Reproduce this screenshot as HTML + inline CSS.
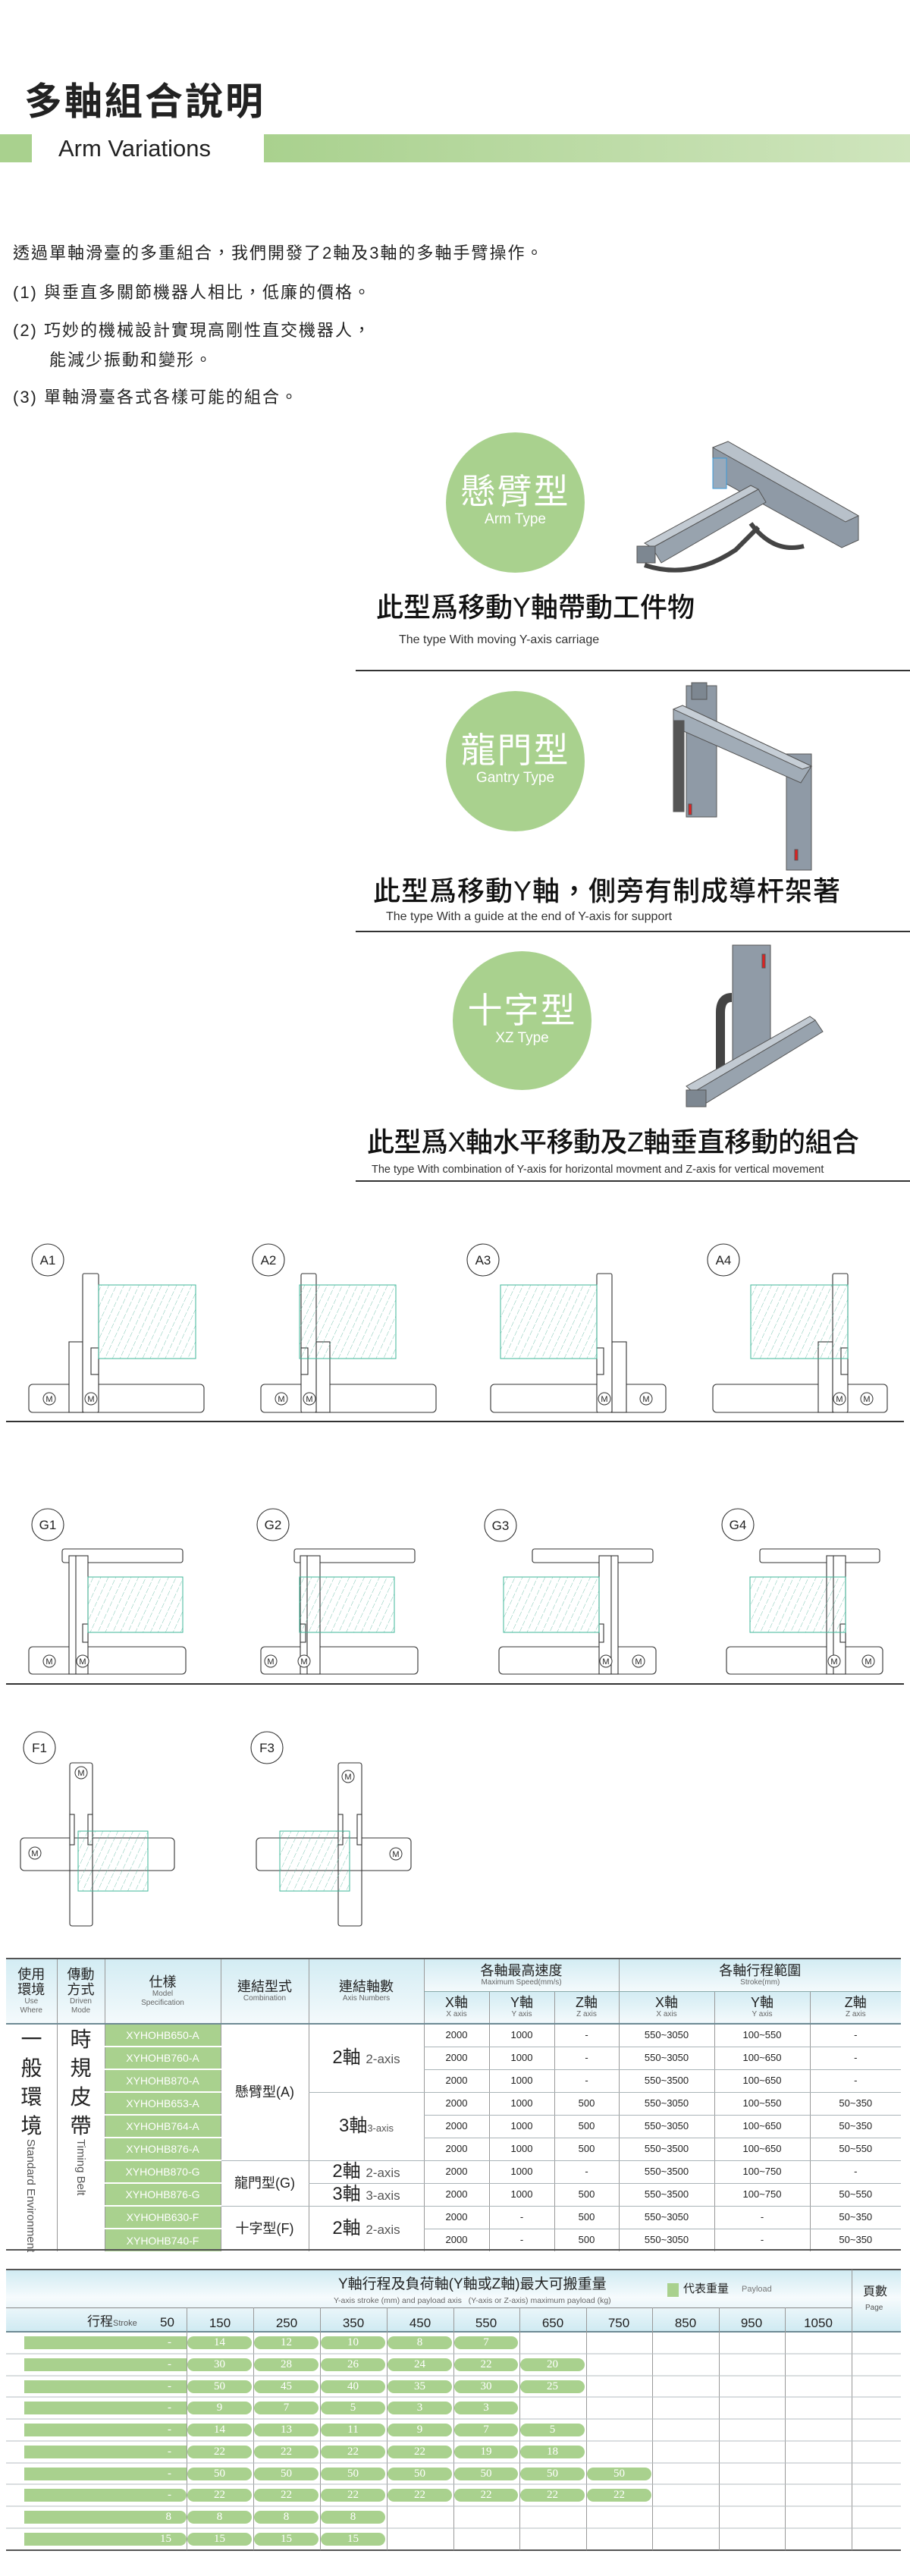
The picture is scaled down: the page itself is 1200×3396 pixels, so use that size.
<!DOCTYPE html>
<html><head><meta charset="utf-8">
<style>
*{margin:0;padding:0;box-sizing:border-box}
body{width:1200px;height:3396px;position:relative;background:#fff;font-family:"Liberation Sans","Noto Sans CJK TC",sans-serif;color:#222;overflow:hidden}
.a{position:absolute;white-space:nowrap}
.circ{position:absolute;border-radius:50%;background:#a9d18e;color:#fff;text-align:center}
.circ .c{font-size:46px;line-height:52px;letter-spacing:2px}
.circ .e{font-size:19px;line-height:22px}
.big{font-size:36px;line-height:40px;font-weight:500;color:#111}
.sub{font-size:16px;line-height:18px;color:#333}
.hl{position:absolute;left:469px;width:731px;height:2px;background:#333}
.p{font-size:22px;line-height:26px;letter-spacing:2px}
table{border-collapse:collapse;position:absolute;table-layout:fixed}
#t1 td{text-align:center;vertical-align:middle;font-size:13px;line-height:16px;color:#222;border-left:1px solid #999;border-bottom:1px solid #aab4b8;height:30px;padding:0;overflow:hidden}
#t1 .h td{background:linear-gradient(#d3ecf3,#f4fafc);border-bottom:2px solid #6e8a94}
#t1 .m{background:#a9d18e;color:#fff;font-size:14px;border-bottom:2px solid #fff}
.hc{font-size:18px;line-height:20px}
.he{font-size:10px;color:#666;line-height:12px}
.ax{font-size:24px;line-height:26px}
.pill{position:absolute;height:17px;background:#a9d18e;color:#fff;font-family:"Liberation Serif",serif;font-size:15px;line-height:17px;text-align:center;border-radius:9px}
.fs{position:absolute;height:17px;background:#a9d18e;color:#fff;font-family:"Liberation Serif",serif;font-size:15px;line-height:17px;text-align:right;padding-right:20px;left:32px;width:214px}
</style></head><body>

<div class="a" style="left:32px;top:104px;font-size:50px;line-height:60px;font-weight:bold;letter-spacing:3px;color:#222">多軸組合說明</div>
<div class="a" style="left:0;top:177px;width:42px;height:37px;background:#a9d18e"></div>
<div class="a" style="left:348px;top:177px;width:852px;height:37px;background:linear-gradient(90deg,#a9d18e,#cfe5bd)"></div>
<div class="a" style="left:77px;top:178px;font-size:31px;line-height:36px;color:#222">Arm Variations</div>

<div class="a p" style="left:17px;top:321px">透過單軸滑臺的多重組合，我們開發了2軸及3軸的多軸手臂操作。</div>
<div class="a p" style="left:17px;top:373px">(1) 與垂直多關節機器人相比，低廉的價格。</div>
<div class="a p" style="left:17px;top:423px">(2) 巧妙的機械設計實現高剛性直交機器人，</div>
<div class="a p" style="left:65px;top:462px">能減少振動和變形。</div>
<div class="a p" style="left:17px;top:511px">(3) 單軸滑臺各式各樣可能的組合。</div>

<div class="circ" style="left:588px;top:570px;width:183px;height:185px;padding-top:52px"><div class="c">懸臂型</div><div class="e">Arm Type</div></div>
<div class="a big" style="left:496px;top:781px">此型爲移動Y軸帶動工件物</div>
<div class="a sub" style="left:526px;top:835px">The type With moving Y-axis carriage</div>
<div class="hl" style="top:883px"></div>

<div class="circ" style="left:588px;top:911px;width:183px;height:185px;padding-top:52px"><div class="c">龍門型</div><div class="e">Gantry Type</div></div>
<div class="a big" style="left:492px;top:1155px;letter-spacing:1px">此型爲移動Y軸，側旁有制成導杆架著</div>
<div class="a sub" style="left:509px;top:1200px">The type With a guide at the end of Y-axis for support</div>
<div class="hl" style="top:1227px"></div>

<div class="circ" style="left:597px;top:1254px;width:183px;height:183px;padding-top:52px"><div class="c">十字型</div><div class="e">XZ Type</div></div>
<div class="a big" style="left:484px;top:1486px;letter-spacing:-0.5px">此型爲X軸水平移動及Z軸垂直移動的組合</div>
<div class="a sub" style="left:490px;top:1533px;font-size:14.5px">The type With combination of Y-axis for horizontal movment and Z-axis for vertical movement</div>
<div class="hl" style="top:1556px"></div>

<svg class="a" style="left:0;top:0" width="1200" height="2540" viewBox="0 0 1200 2540">
<defs>
<pattern id="h" width="9" height="9" patternUnits="userSpaceOnUse" patternTransform="rotate(25)">
<line x1="0" y1="0" x2="0" y2="9" stroke="#5cb8a0" stroke-width="0.8" stroke-dasharray="4 2"/></pattern>
</defs>
<g stroke="#555" stroke-width="1">
<polygon points="940,590 960,582 1132,680 1132,712 1110,722 940,628" fill="#8f9aa6"/>
<polygon points="940,590 960,582 1132,680 1115,688" fill="#b8c1ca"/>
<polygon points="860,722 1000,645 1010,662 872,742" fill="#98a3ae"/>
<polygon points="860,722 1000,645 990,640 850,716" fill="#c2cad2"/>
<rect x="840" y="720" width="24" height="22" fill="#7d8791"/>
<path d="M850,745 q60,20 120,-20 l30,-30" fill="none" stroke="#444" stroke-width="6"/>
<path d="M990,690 q30,40 70,30" fill="none" stroke="#444" stroke-width="6"/>
<rect x="940" y="604" width="18" height="40" fill="#9ab" stroke="#3a9ad9"/>
</g>
<g stroke="#555" stroke-width="1">
<rect x="905" y="904" width="40" height="173" fill="#8f9aa6"/>
<rect x="1037" y="994" width="33" height="153" fill="#8f9aa6"/>
<polygon points="888,935 900,930 1070,1010 1056,1032 888,958" fill="#a1acb7"/>
<polygon points="888,935 900,930 1070,1010 1058,1014" fill="#c6ced6"/>
<rect x="888" y="950" width="14" height="120" fill="#555"/>
<rect x="912" y="900" width="20" height="22" fill="#7d8791"/>
<rect x="908" y="1060" width="4" height="14" fill="#d22"/>
<rect x="1048" y="1120" width="4" height="14" fill="#d22"/>
</g>
<g stroke="#555" stroke-width="1">
<rect x="966" y="1246" width="50" height="156" fill="#909ba7"/>
<path d="M950,1415 v-80 q0,-20 15,-20" fill="none" stroke="#444" stroke-width="12"/>
<polygon points="914,1440 1075,1345 1085,1360 925,1458" fill="#98a3ae"/>
<polygon points="914,1440 1075,1345 1068,1340 905,1432" fill="#c2cad2"/>
<rect x="905" y="1437" width="26" height="22" fill="#7d8791"/>
<rect x="1005" y="1258" width="4" height="18" fill="#d22"/>
</g>

<g fill="#fff" stroke="#333" stroke-width="1.1">
<circle cx="63" cy="1661" r="21"/><circle cx="354" cy="1661" r="21"/><circle cx="637" cy="1661" r="21"/><circle cx="954" cy="1661" r="21"/>
<circle cx="63" cy="2010" r="21"/><circle cx="360" cy="2010" r="21"/><circle cx="660" cy="2011" r="21"/><circle cx="973" cy="2010" r="21"/>
<circle cx="52" cy="2304" r="21"/><circle cx="352" cy="2304" r="21"/>
<rect x="38" y="1825" width="231" height="37" rx="5"/>
<rect x="91" y="1769" width="18" height="93"/>
<rect x="109" y="1679" width="21" height="183" rx="2"/>
<rect x="120" y="1777" width="10" height="35"/>
<rect x="344" y="1825" width="231" height="37" rx="5"/>
<rect x="417" y="1769" width="18" height="93"/>
<rect x="397" y="1679" width="20" height="183" rx="2"/>
<rect x="397" y="1777" width="9" height="35"/>
<rect x="647" y="1825" width="231" height="37" rx="5"/>
<rect x="807" y="1769" width="19" height="93"/>
<rect x="787" y="1679" width="20" height="183" rx="2"/>
<rect x="787" y="1777" width="9" height="35"/>
<rect x="940" y="1825" width="230" height="37" rx="5"/>
<rect x="1079" y="1769" width="19" height="93"/>
<rect x="1098" y="1679" width="20" height="183" rx="2"/>
<rect x="1109" y="1777" width="9" height="35"/>
<rect x="82" y="2042" width="159" height="18" rx="3"/>
<rect x="38" y="2171" width="207" height="36" rx="5"/>
<rect x="91" y="2051" width="25" height="156"/><line x1="100" y1="2051" x2="100" y2="2207"/>
<rect x="109" y="2141" width="7" height="24"/>
<rect x="388" y="2042" width="159" height="18" rx="3"/>
<rect x="344" y="2171" width="207" height="36" rx="5"/>
<rect x="396" y="2051" width="26" height="156"/><line x1="405" y1="2051" x2="405" y2="2207"/>
<rect x="396" y="2141" width="7" height="24"/>
<rect x="702" y="2042" width="159" height="18" rx="3"/>
<rect x="658" y="2171" width="207" height="36" rx="5"/>
<rect x="790" y="2051" width="25" height="156"/><line x1="806" y1="2051" x2="806" y2="2207"/>
<rect x="790" y="2141" width="6" height="24"/>
<rect x="1002" y="2042" width="158" height="18" rx="3"/>
<rect x="958" y="2171" width="206" height="36" rx="5"/>
<rect x="1090" y="2051" width="25" height="156"/><line x1="1099" y1="2051" x2="1099" y2="2207"/>
<rect x="1108" y="2141" width="7" height="24"/>
<rect x="27" y="2423" width="203" height="43" rx="5"/>
<rect x="92" y="2324" width="30" height="215" rx="3" fill="none"/>
<rect x="92" y="2392" width="6" height="40"/><rect x="116" y="2392" width="6" height="40"/>
<rect x="338" y="2423" width="204" height="43" rx="5"/>
<rect x="446" y="2324" width="31" height="215" rx="3" fill="none"/>
<rect x="446" y="2392" width="6" height="40"/><rect x="471" y="2392" width="6" height="40"/>
</g>
<g fill="url(#h)" stroke="#3fb79a" stroke-width="1">
<rect x="130" y="1694" width="128" height="97"/>
<rect x="395" y="1694" width="127" height="97"/>
<rect x="660" y="1694" width="127" height="97"/>
<rect x="990" y="1694" width="128" height="97"/>
<rect x="116" y="2079" width="125" height="73"/>
<rect x="395" y="2079" width="125" height="73"/>
<rect x="664" y="2079" width="126" height="73"/>
<rect x="989" y="2079" width="126" height="73"/>
<rect x="103" y="2414" width="92" height="79"/>
<rect x="369" y="2414" width="92" height="79"/>
</g>
<g fill="#fff" stroke="#333" stroke-width="1">
<circle cx="65" cy="1844" r="8"/><circle cx="120" cy="1844" r="8"/>
<circle cx="371" cy="1844" r="8"/><circle cx="408" cy="1844" r="8"/>
<circle cx="797" cy="1844" r="8"/><circle cx="852" cy="1844" r="8"/>
<circle cx="1107" cy="1844" r="8"/><circle cx="1143" cy="1844" r="8"/>
<circle cx="65" cy="2190" r="8"/><circle cx="109" cy="2190" r="8"/>
<circle cx="357" cy="2190" r="8"/><circle cx="401" cy="2190" r="8"/>
<circle cx="799" cy="2190" r="8"/><circle cx="842" cy="2190" r="8"/>
<circle cx="1100" cy="2190" r="8"/><circle cx="1145" cy="2190" r="8"/>
<circle cx="107" cy="2337" r="8"/><circle cx="46" cy="2443" r="8"/>
<circle cx="459" cy="2342" r="8"/><circle cx="522" cy="2444" r="8"/>
</g>
<g font-family="Liberation Sans,sans-serif" font-size="11" text-anchor="middle" fill="#222">
<text x="65" y="1848">M</text><text x="120" y="1848">M</text><text x="371" y="1848">M</text><text x="408" y="1848">M</text>
<text x="797" y="1848">M</text><text x="852" y="1848">M</text><text x="1107" y="1848">M</text><text x="1143" y="1848">M</text>
<text x="65" y="2194">M</text><text x="109" y="2194">M</text><text x="357" y="2194">M</text><text x="401" y="2194">M</text>
<text x="799" y="2194">M</text><text x="842" y="2194">M</text><text x="1100" y="2194">M</text><text x="1145" y="2194">M</text>
<text x="107" y="2341">M</text><text x="46" y="2447">M</text><text x="459" y="2346">M</text><text x="522" y="2448">M</text>
</g>
<g font-family="Liberation Sans,sans-serif" font-size="17" text-anchor="middle" fill="#222">
<text x="63" y="1667">A1</text><text x="354" y="1667">A2</text><text x="637" y="1667">A3</text><text x="954" y="1667">A4</text>
<text x="63" y="2016">G1</text><text x="360" y="2016">G2</text><text x="660" y="2017">G3</text><text x="973" y="2016">G4</text>
<text x="52" y="2310">F1</text><text x="352" y="2310">F3</text>
</g>
<line x1="8" y1="1874" x2="1192" y2="1874" stroke="#333" stroke-width="2"/>
<line x1="8" y1="2220" x2="1192" y2="2220" stroke="#333" stroke-width="2"/>
</svg>

<!-- table 1 -->
<div class="a" style="left:8px;top:2581px;width:1180px;height:2px;background:#555"></div>
<table id="t1" style="left:8px;top:2583px;width:1180px">
<colgroup><col style="width:67px"><col style="width:63px"><col style="width:153px"><col style="width:116px"><col style="width:152px"><col style="width:86px"><col style="width:86px"><col style="width:85px"><col style="width:126px"><col style="width:126px"><col style="width:120px"></colgroup>
<tr class="h"><td rowspan="2" style="border-left:none;height:85px"><div class="hc">使用<br>環境</div><div class="he">Use<br>Where</div></td>
<td rowspan="2"><div class="hc">傳動<br>方式</div><div class="he">Driven<br>Mode</div></td>
<td rowspan="2"><div class="hc">仕樣</div><div class="he">Model<br>Specification</div></td>
<td rowspan="2"><div class="hc">連結型式</div><div class="he">Combination</div></td>
<td rowspan="2"><div class="hc">連結軸數</div><div class="he">Axis Numbers</div></td>
<td colspan="3" style="border-bottom:1px solid #8aa;height:42px"><div class="hc">各軸最高速度</div><div class="he">Maximum Speed(mm/s)</div></td>
<td colspan="3" style="border-bottom:1px solid #8aa;height:42px"><div class="hc">各軸行程範圍</div><div class="he">Stroke(mm)</div></td></tr>
<tr class="h"><td style="height:43px"><div class="hc">X軸</div><div class="he">X axis</div></td><td><div class="hc">Y軸</div><div class="he">Y axis</div></td><td><div class="hc">Z軸</div><div class="he">Z axis</div></td><td><div class="hc">X軸</div><div class="he">X axis</div></td><td><div class="hc">Y軸</div><div class="he">Y axis</div></td><td><div class="hc">Z軸</div><div class="he">Z axis</div></td></tr>
<tr><td rowspan="10" style="border-left:none;border-bottom:none"></td>
<td rowspan="10" style="border-bottom:none"></td>
<td class="m">XYHOHB650-A</td><td rowspan="6" style="font-size:18px">懸臂型(A)</td><td rowspan="3"><span class="ax">2軸 </span><span style="font-size:17px;color:#555">2-axis</span></td><td>2000</td><td>1000</td><td>-</td><td>550~3050</td><td>100~550</td><td>-</td></tr>
<tr><td class="m">XYHOHB760-A</td><td>2000</td><td>1000</td><td>-</td><td>550~3050</td><td>100~650</td><td>-</td></tr>
<tr><td class="m">XYHOHB870-A</td><td>2000</td><td>1000</td><td>-</td><td>550~3500</td><td>100~650</td><td>-</td></tr>
<tr><td class="m">XYHOHB653-A</td><td rowspan="3"><span class="ax">3軸</span><span style="font-size:13px;color:#555">3-axis</span></td><td>2000</td><td>1000</td><td>500</td><td>550~3050</td><td>100~550</td><td>50~350</td></tr>
<tr><td class="m">XYHOHB764-A</td><td>2000</td><td>1000</td><td>500</td><td>550~3050</td><td>100~650</td><td>50~350</td></tr>
<tr><td class="m">XYHOHB876-A</td><td>2000</td><td>1000</td><td>500</td><td>550~3500</td><td>100~650</td><td>50~550</td></tr>
<tr><td class="m">XYHOHB870-G</td><td rowspan="2" style="font-size:18px">龍門型(G)</td><td><span class="ax">2軸 </span><span style="font-size:17px;color:#555">2-axis</span></td><td>2000</td><td>1000</td><td>-</td><td>550~3500</td><td>100~750</td><td>-</td></tr>
<tr><td class="m">XYHOHB876-G</td><td><span class="ax">3軸 </span><span style="font-size:17px;color:#555">3-axis</span></td><td>2000</td><td>1000</td><td>500</td><td>550~3500</td><td>100~750</td><td>50~550</td></tr>
<tr><td class="m">XYHOHB630-F</td><td rowspan="2" style="font-size:18px;border-bottom:none">十字型(F)</td><td rowspan="2" style="border-bottom:none"><span class="ax">2軸 </span><span style="font-size:17px;color:#555">2-axis</span></td><td>2000</td><td>-</td><td>500</td><td>550~3050</td><td>-</td><td>50~350</td></tr>
<tr><td class="m" style="border-bottom:none">XYHOHB740-F</td><td style="border-bottom:none">2000</td><td style="border-bottom:none">-</td><td style="border-bottom:none">500</td><td style="border-bottom:none">550~3050</td><td style="border-bottom:none">-</td><td style="border-bottom:none">50~350</td></tr>
</table>
<div class="a" style="left:8px;top:2670px;width:67px;text-align:center;font-size:28px;line-height:38px">一<br>般<br>環<br>境</div>
<div class="a" style="left:75px;top:2670px;width:63px;text-align:center;font-size:28px;line-height:38px">時<br>規<br>皮<br>帶</div>
<div class="a" style="left:30px;top:2820px;writing-mode:vertical-rl;font-size:15px;line-height:20px;color:#555">Standard Environment</div>
<div class="a" style="left:96px;top:2820px;writing-mode:vertical-rl;font-size:15px;line-height:20px;color:#555">Timing Belt</div>
<div class="a" style="left:8px;top:2965px;width:1180px;height:2px;background:#555"></div>

<!-- table 2 -->
<div class="a" style="left:8px;top:2992px;width:1180px;height:82px;background:linear-gradient(#cfeaf2,#f6fbfd 45%,#cfeaf2)"></div>
<div class="a" style="left:8px;top:2991px;width:1180px;height:2px;background:#555"></div>
<div class="a" style="left:8px;top:3042px;width:1115px;height:1px;background:#888"></div>
<div class="a" style="left:8px;top:3073px;width:1180px;height:2px;background:#6e8a94"></div>
<div class="a" style="left:8px;top:3361px;width:1180px;height:2px;background:#555"></div>
<div class="a" style="left:446px;top:3000px;font-size:19px;line-height:24px;color:#222">Y軸行程及負荷軸(Y軸或Z軸)最大可搬重量</div>
<div class="a" style="left:440px;top:3027px;font-size:10.5px;line-height:13px;color:#666">Y-axis stroke (mm) and payload axis &nbsp;&nbsp;(Y-axis or Z-axis) maximum payload (kg)</div>
<div class="a" style="left:880px;top:3010px;width:15px;height:18px;background:#a9d18e"></div>
<div class="a" style="left:901px;top:3008px;font-size:15px;line-height:20px">代表重量</div>
<div class="a" style="left:978px;top:3012px;font-size:11px;color:#777">Payload</div>
<div class="a" style="left:1138px;top:3012px;font-size:16px;line-height:20px">頁數</div>
<div class="a" style="left:1141px;top:3037px;font-size:10px;color:#555">Page</div>
<div class="a" style="left:115px;top:3050px;font-size:17px;line-height:22px">行程<span style="font-size:11px;color:#555">Stroke</span></div>
<div class="a" style="left:211px;top:3052px;font-size:17px;line-height:20px">50</div>
<svg class="a" style="left:0;top:2990px" width="1200" height="380">
<g stroke="#999" stroke-width="1">
<line x1="246.5" y1="52" x2="246.5" y2="372"/><line x1="334.5" y1="52" x2="334.5" y2="372"/><line x1="422.5" y1="52" x2="422.5" y2="372"/><line x1="510.5" y1="52" x2="510.5" y2="372"/><line x1="598.5" y1="52" x2="598.5" y2="372"/><line x1="685.5" y1="52" x2="685.5" y2="372"/><line x1="773.5" y1="52" x2="773.5" y2="372"/><line x1="860.5" y1="52" x2="860.5" y2="372"/><line x1="948.5" y1="52" x2="948.5" y2="372"/><line x1="1035.5" y1="52" x2="1035.5" y2="372"/><line x1="1123.5" y1="2" x2="1123.5" y2="372"/>
</g>
<g stroke="#b5bec2" stroke-width="1">
<line x1="8" y1="113" x2="1188" y2="113"/><line x1="8" y1="142" x2="1188" y2="142"/><line x1="8" y1="170" x2="1188" y2="170"/><line x1="8" y1="199" x2="1188" y2="199"/><line x1="8" y1="228" x2="1188" y2="228"/><line x1="8" y1="257" x2="1188" y2="257"/><line x1="8" y1="285" x2="1188" y2="285"/><line x1="8" y1="314" x2="1188" y2="314"/><line x1="8" y1="343" x2="1188" y2="343"/>
</g>
<g font-family="Liberation Sans,sans-serif" font-size="17" text-anchor="middle" fill="#222">
<text x="290" y="78">150</text><text x="378" y="78">250</text><text x="466" y="78">350</text><text x="554" y="78">450</text><text x="641" y="78">550</text><text x="729" y="78">650</text><text x="816" y="78">750</text><text x="904" y="78">850</text><text x="991" y="78">950</text><text x="1079" y="78">1050</text>
</g>
</svg>

<div class="fs" style="top:3080px">-</div>
<div class="pill" style="top:3080px;left:247px;width:85px">14</div><div class="pill" style="top:3080px;left:335px;width:85px">12</div><div class="pill" style="top:3080px;left:423px;width:85px">10</div><div class="pill" style="top:3080px;left:511px;width:85px">8</div><div class="pill" style="top:3080px;left:599px;width:84px">7</div>
<div class="fs" style="top:3109px">-</div>
<div class="pill" style="top:3109px;left:247px;width:85px">30</div><div class="pill" style="top:3109px;left:335px;width:85px">28</div><div class="pill" style="top:3109px;left:423px;width:85px">26</div><div class="pill" style="top:3109px;left:511px;width:85px">24</div><div class="pill" style="top:3109px;left:599px;width:84px">22</div><div class="pill" style="top:3109px;left:686px;width:85px">20</div>
<div class="fs" style="top:3138px">-</div>
<div class="pill" style="top:3138px;left:247px;width:85px">50</div><div class="pill" style="top:3138px;left:335px;width:85px">45</div><div class="pill" style="top:3138px;left:423px;width:85px">40</div><div class="pill" style="top:3138px;left:511px;width:85px">35</div><div class="pill" style="top:3138px;left:599px;width:84px">30</div><div class="pill" style="top:3138px;left:686px;width:85px">25</div>
<div class="fs" style="top:3166px">-</div>
<div class="pill" style="top:3166px;left:247px;width:85px">9</div><div class="pill" style="top:3166px;left:335px;width:85px">7</div><div class="pill" style="top:3166px;left:423px;width:85px">5</div><div class="pill" style="top:3166px;left:511px;width:85px">3</div><div class="pill" style="top:3166px;left:599px;width:84px">3</div>
<div class="fs" style="top:3195px">-</div>
<div class="pill" style="top:3195px;left:247px;width:85px">14</div><div class="pill" style="top:3195px;left:335px;width:85px">13</div><div class="pill" style="top:3195px;left:423px;width:85px">11</div><div class="pill" style="top:3195px;left:511px;width:85px">9</div><div class="pill" style="top:3195px;left:599px;width:84px">7</div><div class="pill" style="top:3195px;left:686px;width:85px">5</div>
<div class="fs" style="top:3224px">-</div>
<div class="pill" style="top:3224px;left:247px;width:85px">22</div><div class="pill" style="top:3224px;left:335px;width:85px">22</div><div class="pill" style="top:3224px;left:423px;width:85px">22</div><div class="pill" style="top:3224px;left:511px;width:85px">22</div><div class="pill" style="top:3224px;left:599px;width:84px">19</div><div class="pill" style="top:3224px;left:686px;width:85px">18</div>
<div class="fs" style="top:3253px">-</div>
<div class="pill" style="top:3253px;left:247px;width:85px">50</div><div class="pill" style="top:3253px;left:335px;width:85px">50</div><div class="pill" style="top:3253px;left:423px;width:85px">50</div><div class="pill" style="top:3253px;left:511px;width:85px">50</div><div class="pill" style="top:3253px;left:599px;width:84px">50</div><div class="pill" style="top:3253px;left:686px;width:85px">50</div><div class="pill" style="top:3253px;left:774px;width:85px">50</div>
<div class="fs" style="top:3281px;border-radius:0 9px 9px 0">-</div>
<div class="pill" style="top:3281px;left:247px;width:85px">22</div><div class="pill" style="top:3281px;left:335px;width:85px">22</div><div class="pill" style="top:3281px;left:423px;width:85px">22</div><div class="pill" style="top:3281px;left:511px;width:85px">22</div><div class="pill" style="top:3281px;left:599px;width:84px">22</div><div class="pill" style="top:3281px;left:686px;width:85px">22</div><div class="pill" style="top:3281px;left:774px;width:85px">22</div>
<div class="fs" style="top:3310px;border-radius:0 9px 9px 0">8</div>
<div class="pill" style="top:3310px;left:247px;width:85px">8</div><div class="pill" style="top:3310px;left:335px;width:85px">8</div><div class="pill" style="top:3310px;left:423px;width:85px">8</div>
<div class="fs" style="top:3339px;border-radius:0 9px 9px 0">15</div>
<div class="pill" style="top:3339px;left:247px;width:85px">15</div><div class="pill" style="top:3339px;left:335px;width:85px">15</div><div class="pill" style="top:3339px;left:423px;width:85px">15</div>

</body></html>
